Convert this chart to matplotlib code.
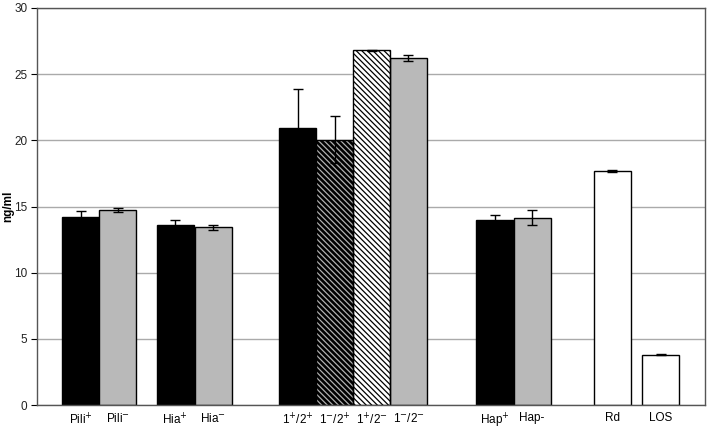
import matplotlib
matplotlib.use("Agg")
import matplotlib.pyplot as plt

plt.rcParams['font.family'] = ['Liberation Sans', 'DejaVu Sans']
plt.rcParams['hatch.linewidth'] = 0.9

labels = ['Pili$^{+}$', 'Pili$^{-}$', 'Hia$^{+}$', 'Hia$^{-}$',
          '1$^{+}$/2$^{+}$', '1$^{-}$/2$^{+}$', '1$^{+}$/2$^{-}$', '1$^{-}$/2$^{-}$',
          'Hap$^{+}$', 'Hap-', 'Rd', 'LOS']
values = [14.2, 14.7, 13.6, 13.43, 20.9, 20.05, 26.8, 26.2, 14.0, 14.15, 17.65, 3.8]
errors = [0.45, 0.15, 0.38, 0.19, 2.95, 1.8, 0.05, 0.22, 0.35, 0.55, 0.08, 0.04]

# layout (bar centres in bar-width units)
pos = [1.18, 2.18, 3.73, 4.76, 7.05, 8.05, 9.05, 10.04, 12.37, 13.38, 15.55, 16.86]
faces = ['black', '#b9b9b9', 'black', '#b9b9b9', 'black', 'black', 'white', '#b9b9b9',
         'black', '#b9b9b9', 'white', 'white']
hatch_colors = [None, None, None, None, None, '#b0b0b0', 'black', None, None, None, None, None]

fig = plt.figure(figsize=(7.11, 4.30), dpi=100)
ax = fig.add_axes([37/711, 25/430, (705-37)/711, (405-8)/430])

for p, v, e, fc, hc in zip(pos, values, errors, faces, hatch_colors):
    if hc is not None:
        ax.bar(p, v, width=1.0, color=fc, edgecolor=hc, linewidth=0, hatch='\\\\\\\\\\\\', zorder=2)
        ax.bar(p, v, width=1.0, fill=False, edgecolor='black', linewidth=1.0, zorder=2.5)
    else:
        ax.bar(p, v, width=1.0, color=fc, edgecolor='black', linewidth=1.0, zorder=2)
    ax.errorbar(p, v, yerr=e, fmt='none', ecolor='black', elinewidth=1.0, capsize=3.5, capthick=1.0, zorder=3)

ax.set_xlim(0, (705-37)/37)
ax.set_ylim(0, 30)
ax.set_yticks(range(0, 31, 5))
ax.yaxis.grid(True, color='#aaaaaa', linewidth=1.0, zorder=0)
ax.set_axisbelow(True)
ax.set_xticks(pos)
ax.set_xticklabels(labels, fontsize=8.5)
ax.tick_params(axis='x', length=0, pad=5)
ax.tick_params(axis='y', labelsize=8.5, labelcolor='#222222', length=4, width=0.8, direction='out', pad=3)
for s in ax.spines.values():
    s.set_color('#555555')
    s.set_linewidth(1.0)
ax.set_ylabel('ng/ml', fontsize=8.5, fontweight='bold')
ax.yaxis.set_label_coords(-0.034, 0.5)

fig.savefig('out.png', dpi=100)
